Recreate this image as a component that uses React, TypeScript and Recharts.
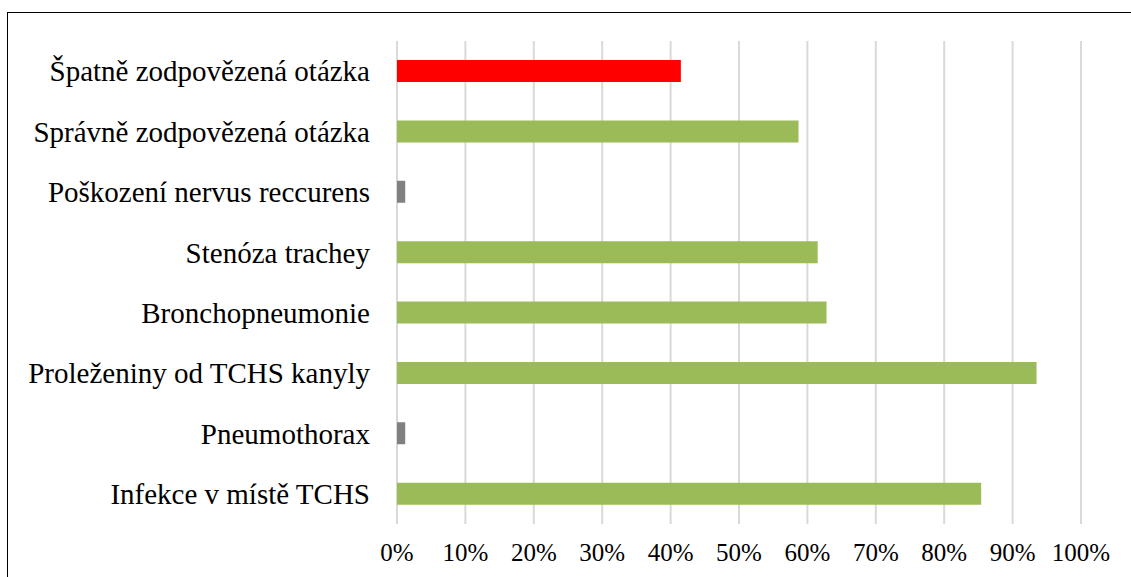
import { BarChart, Bar, XAxis, YAxis, CartesianGrid, Cell } from 'recharts'

const categories = [
  'Špatně zodpovězená otázka',
  'Správně zodpovězená otázka',
  'Poškození nervus reccurens',
  'Stenóza trachey',
  'Bronchopneumonie',
  'Proleženiny od TCHS kanyly',
  'Pneumothorax',
  'Infekce v místě TCHS',
]

const shares = [0.415, 0.587, 0.012, 0.615, 0.628, 0.935, 0.012, 0.854]

// wrong = red, correct = green, distractor = grey
const answerTypes = ['wrong', 'correct', 'distractor', 'correct', 'correct', 'correct', 'distractor', 'correct']

const xTicks = [0, 0.1, 0.2, 0.3, 0.4, 0.5, 0.6, 0.7, 0.8, 0.9, 1]

const COLORS: Record<string, string> = {
  wrong: '#FF0000',
  correct: '#9BBB59',
  distractor: '#808080',
}

const data = categories.map((name, i) => ({ name, value: shares[i], type: answerTypes[i] }))

export default function App() {
  return (
    <div style={{ position: 'absolute', left: 0, top: 0, width: 1131, height: 577, overflow: 'hidden', background: '#fff' }}>
      <div
        style={{
          position: 'absolute',
          left: 7,
          top: 12,
          width: 1140,
          height: 600,
          border: '1.5px solid #000',
        }}
      />
      <div style={{ position: 'absolute', left: 0, top: 0 }}>
        <BarChart
          width={1131}
          height={577}
          data={data}
          layout="vertical"
          margin={{ top: 41, right: 50, bottom: 0, left: 0 }}
          barSize={22}
        >
          <CartesianGrid horizontal={false} stroke="#D9D9D9" strokeWidth={2} />
          <XAxis
            type="number"
            domain={[0, 1]}
            ticks={xTicks}
            tickFormatter={(v: number) => `${Math.round(v * 100)}%`}
            axisLine={false}
            tickLine={false}
            tickSize={0}
            tickMargin={19}
            height={53}
            interval={0}
            tick={{ fontFamily: 'Liberation Serif', fontSize: 25, fill: '#000' }}
          />
          <YAxis
            type="category"
            dataKey="name"
            width={397}
            axisLine={false}
            tickLine={false}
            tickSize={0}
            tickMargin={27}
            interval={0}
            tick={{ fontFamily: 'Liberation Serif', fontSize: 29, fill: '#000' }}
          />
          <Bar dataKey="value" isAnimationActive={false}>
            {data.map((d) => (
              <Cell key={d.name} fill={COLORS[d.type]} />
            ))}
          </Bar>
        </BarChart>
      </div>
    </div>
  )
}
